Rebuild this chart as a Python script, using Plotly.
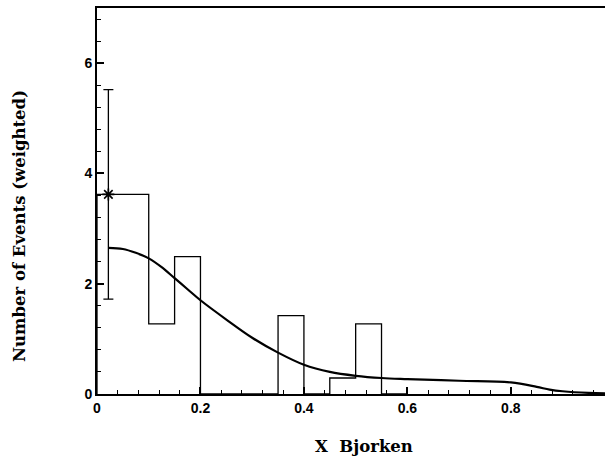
import plotly.graph_objects as go

# Histogram (bin edges and weighted counts)
bin_edges = [0.0, 0.05, 0.10, 0.15, 0.20, 0.25, 0.30, 0.35, 0.40, 0.45, 0.50, 0.55, 0.60]
bin_counts = [3.62, 3.62, 1.27, 2.49, 0.0, 0.0, 0.0, 1.42, 0.0, 0.29, 1.27, 0.0]

# Data point with error bar
pt_x = [0.022]
pt_y = [3.62]
pt_err_up = [1.90]
pt_err_dn = [1.90]

# Smooth expectation curve
curve_x = [0.022, 0.05, 0.075, 0.10, 0.125, 0.15, 0.175, 0.20, 0.25, 0.30, 0.35, 0.40,
           0.45, 0.50, 0.55, 0.60, 0.70, 0.80, 0.85, 0.875, 0.90, 0.95, 1.0]
curve_y = [2.65, 2.63, 2.56, 2.46, 2.30, 2.10, 1.90, 1.70, 1.35, 1.02, 0.75, 0.53,
           0.40, 0.33, 0.29, 0.27, 0.24, 0.21, 0.13, 0.08, 0.05, 0.02, 0.01]

x_tickvals = [0, 0.2, 0.4, 0.6, 0.8]
x_ticktext = ["<b>0</b>", "<b>0.2</b>", "<b>0.4</b>", "<b>0.6</b>", "<b>0.8</b>"]
y_tickvals = [0, 2, 4, 6]
y_ticktext = ["<b>0</b>", "<b>2</b>", "<b>4</b>", "<b>6</b>"]

step_x = [bin_edges[0]] + bin_edges
step_y = [0.0] + bin_counts + [0.0]

fig = go.Figure()
fig.add_trace(go.Scatter(x=step_x, y=step_y, mode="lines", line_shape="hv",
                         line=dict(color="black", width=1.3), hoverinfo="skip"))
fig.add_trace(go.Scatter(x=curve_x, y=curve_y, mode="lines", line_shape="spline",
                         line=dict(color="black", width=2.2), hoverinfo="skip"))
fig.add_trace(go.Scatter(x=pt_x, y=pt_y, mode="markers",
                         marker=dict(symbol="asterisk-open", size=10, color="black",
                                     line=dict(color="black", width=1.6)),
                         error_y=dict(type="data", symmetric=False, array=pt_err_up,
                                      arrayminus=pt_err_dn, color="black",
                                      thickness=1.3, width=5)))

tickfont = dict(family="Liberation Sans", size=14, color="black")
titlefont = dict(family="DejaVu Serif", size=16.5, color="black")
fig.update_layout(
    width=605, height=459,
    margin=dict(l=97, r=0, t=8, b=65),
    paper_bgcolor="white", plot_bgcolor="white",
    showlegend=False,
    xaxis=dict(range=[0, 0.982], showgrid=False, zeroline=False,
               showline=True, linecolor="black", linewidth=2, mirror=True,
               tickvals=x_tickvals, ticktext=x_ticktext, ticks="inside",
               ticklen=7, tickwidth=1.5, tickcolor="black", tickfont=tickfont,
               minor=dict(dtick=0.04, tick0=0, ticks="inside", ticklen=4,
                          tickwidth=1.2, tickcolor="black", showgrid=False)),
    yaxis=dict(range=[0, 7], showgrid=False, zeroline=False,
               showline=True, linecolor="black", linewidth=2,
               tickvals=y_tickvals, ticktext=y_ticktext, ticks="inside",
               ticklen=7, tickwidth=1.5, tickcolor="black", tickfont=tickfont,
               minor=dict(dtick=0.4, tick0=0, ticks="inside", ticklen=4,
                          tickwidth=1.2, tickcolor="black", showgrid=False)),
    annotations=[
        dict(text="<b>Number of Events (weighted)</b>", xref="paper", yref="paper",
             x=-(97 - 19) / 508, y=(394 - 226) / 386, textangle=-90, showarrow=False,
             font=titlefont, xanchor="center", yanchor="middle"),
        dict(text="<b>X  Bjorken</b>", xref="paper", yref="paper",
             x=(364 - 97) / 508, y=-(446 - 394) / 386, showarrow=False,
             font=titlefont, xanchor="center", yanchor="middle"),
    ],
)

fig.write_html("out.html")
